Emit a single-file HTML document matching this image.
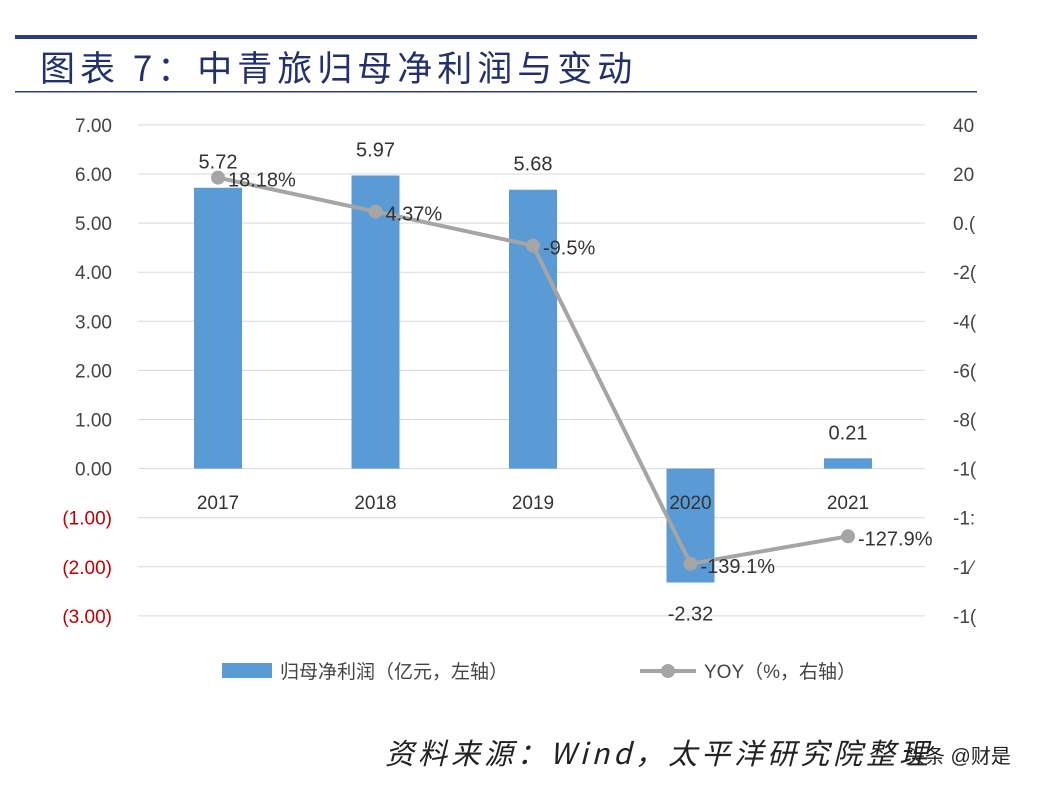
<!DOCTYPE html>
<html><head><meta charset="utf-8"><style>
body{margin:0;background:#fff;}
svg{display:block;font-family:"Liberation Sans","Noto Sans CJK SC",sans-serif;}
</style></head><body>
<svg id="c" width="1062" height="794">
<rect x="15" y="35" width="962" height="4" fill="#2e3a82"/>
<text x="40" y="81" font-size="35" fill="#22306e" font-family="'Noto Sans CJK SC',sans-serif" letter-spacing="5">图表 7：中青旅归母净利润与变动</text>
<rect x="15" y="91" width="962" height="1.5" fill="#2e3a82"/>
<g id="grid"></g><g id="bars"></g><g id="line"></g><g id="labels"></g>
<rect x="222" y="663" width="50" height="15" fill="#5b9bd5"/>
<text x="280" y="678" font-size="19" fill="#444">归母净利润（亿元，左轴）</text>
<line x1="640" y1="671" x2="696" y2="671" stroke="#a5a5a5" stroke-width="4"/>
<circle cx="668" cy="671" r="7" fill="#a5a5a5"/>
<text x="704" y="678" font-size="19" fill="#444">YOY（%，右轴）</text>
<text x="385" y="764" font-size="29" font-style="italic" fill="#222" letter-spacing="4" font-family="'Noto Sans CJK SC',sans-serif">资料来源：Wind，太平洋研究院整理</text>
<text x="905" y="763" font-size="20" fill="#222">头条 @财是</text>
</svg>
<script>
const categories=["2017","2018","2019","2020","2021"];
const profit=[5.72,5.97,5.68,-2.32,0.21];
const yoy=[18.18,4.37,-9.5,-139.1,-127.9];
const yoyLabels=["18.18%","4.37%","-9.5%","-139.1%","-127.9%"];
const leftTicks=[7,6,5,4,3,2,1,0,-1,-2,-3];
const rightTicks=["40","20","0.(","-2(","-4(","-6(","-8(","-1(","-1:","-1⁄","-1("];
const NS="http://www.w3.org/2000/svg";
const yL=v=>468.6-v*49.1;
const yR=v=>222.3-v*49.1/20;
const xC=i=>218+i*157.5;
function mk(p,t,a,txt){const e=document.createElementNS(NS,t);for(const k in a)e.setAttribute(k,a[k]);if(txt!==undefined)e.textContent=txt;document.getElementById(p).appendChild(e);return e;}
leftTicks.forEach((v,i)=>{
 const y=yL(v);
 const g=mk('grid','line',{x1:138,x2:925,y1:y,y2:y,stroke:'#d9d9d9','stroke-width':1});
 
 
 const neg=v<0;
 const t=mk('grid','text',{x:112,y:y+7,'font-size':19,'text-anchor':'end',fill:neg?'#c00000':'#444'},neg?'('+Math.abs(v).toFixed(2)+')':v.toFixed(2));
 
 
 const r=mk('grid','text',{x:953,y:y+7,'font-size':19,fill:'#444'},rightTicks[i]);
 
 
});
profit.forEach((v,i)=>{
 const y0=yL(0),y1=yL(v);
 const b=mk('bars','rect',{x:xC(i)-24,y:Math.min(y0,y1),width:48,height:Math.abs(y1-y0),fill:'#5b9bd5'});
 
 
 const c=mk('labels','text',{x:xC(i),y:509,'font-size':19,'text-anchor':'middle',fill:'#333'},categories[i]);
 
 
 const l=mk('labels','text',{x:xC(i),y:v>=0?y1-19:y1+38,'font-size':20,'text-anchor':'middle',fill:'#333'},v.toFixed(2));
 
 
});
const pl=mk('line','polyline',{points:yoy.map((v,i)=>xC(i)+','+yR(v)).join(' '),fill:'none',stroke:'#a5a5a5','stroke-width':4});


yoy.forEach((v,i)=>{
 const p=mk('line','circle',{cx:xC(i),cy:yR(v),r:7,fill:'#a5a5a5'});
 
 
 const t=mk('labels','text',{x:xC(i)+10,y:yR(v)+9,'font-size':20,fill:'#333'},yoyLabels[i]);
 
 
});
</script>
</body></html>
